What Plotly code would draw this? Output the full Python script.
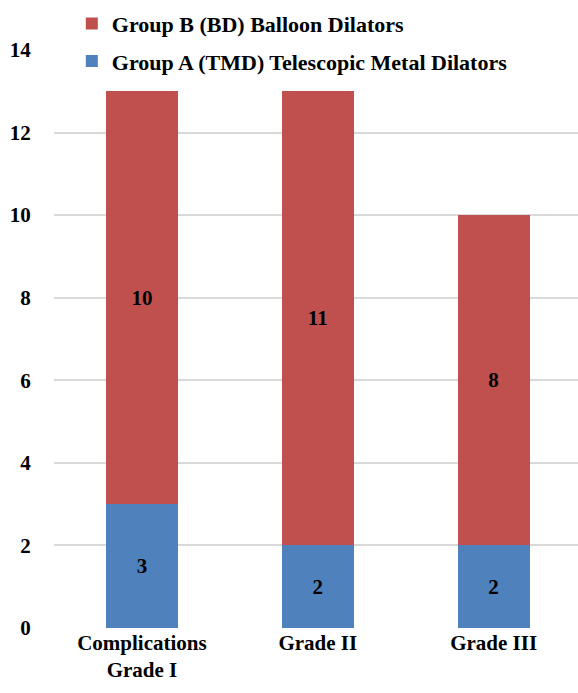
import plotly.graph_objects as go

categories = ["Complications<br>Grade I", "Grade II", "Grade III"]
group_a = [3, 2, 2]
group_b = [10, 11, 8]
name_a = "Group A (TMD) Telescopic Metal Dilators"
name_b = "Group B (BD) Balloon Dilators"
y_ticks = [0, 2, 4, 6, 8, 10, 12, 14]

FONT = "Liberation Serif"
BOLD = dict(family=FONT, size=21, color="#000000", weight="bold")

fig = go.Figure()
fig.add_trace(go.Bar(
    x=categories, y=group_a, name=name_a, legendgroup="a", legendrank=2,
    marker=dict(color="#4F81BD", line=dict(width=0)),
    text=group_a, textposition="inside", insidetextanchor="middle",
    textangle=0, constraintext="none", textfont=BOLD,
))
fig.add_trace(go.Bar(
    x=categories, y=group_b, name=name_b, legendgroup="b", legendrank=1,
    marker=dict(color="#C0504D", line=dict(width=0)),
    text=group_b, textposition="inside", insidetextanchor="middle",
    textangle=0, constraintext="none", textfont=BOLD,
))

fig.update_layout(
    width=578, height=693,
    barmode="stack", bargap=0.59,
    paper_bgcolor="white", plot_bgcolor="white",
    margin=dict(l=54, r=0, t=50, b=65),
    legend=dict(
        x=0.034, y=1.082, xanchor="left", yanchor="top",
        traceorder="grouped", tracegroupgap=6,
        font=dict(family=FONT, size=22, color="#000000", weight="bold"),
    ),
    xaxis=dict(
        range=[-0.5, 2.48], showgrid=False, zeroline=False, showline=False,
        ticks="", tickfont=BOLD,
    ),
    yaxis=dict(
        range=[0, 14], tickvals=y_ticks, showgrid=True, gridcolor="#D9D9D9",
        gridwidth=1.5, zeroline=False, showline=False,
        ticks="outside", ticklen=18, tickcolor="rgba(0,0,0,0)", tickfont=BOLD,
    ),
)

fig.write_html("out.html")
